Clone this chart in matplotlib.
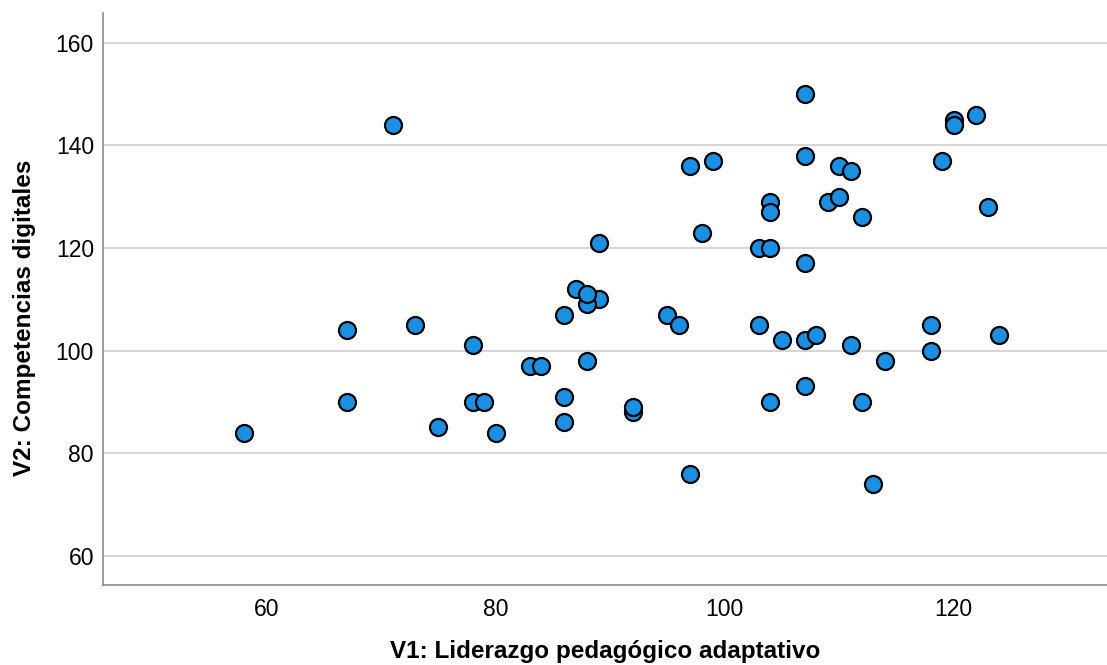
import matplotlib
matplotlib.use('Agg')
import matplotlib.pyplot as plt

# V1 (x) and V2 (y) scores
v1_liderazgo = [58, 67, 67, 71, 73, 75, 78, 78, 79, 80,
                83, 84, 86, 86, 86, 87, 89, 88, 88, 88,
                89, 92, 92, 95, 96, 97, 97, 98, 99, 103,
                103, 104, 104, 104, 104, 105, 107, 107, 107, 107,
                107, 108, 109, 110, 110, 111, 111, 112, 112, 113,
                114, 118, 118, 119, 120, 120, 122, 123, 124]
v2_competencias = [84, 104, 90, 144, 105, 85, 101, 90, 90, 84,
                   97, 97, 107, 91, 86, 112, 110, 109, 111, 98,
                   121, 88, 89, 107, 105, 136, 76, 123, 137, 120,
                   105, 129, 127, 120, 90, 102, 150, 138, 117, 102,
                   93, 103, 129, 136, 130, 135, 101, 126, 90, 74,
                   98, 105, 100, 137, 145, 144, 146, 128, 103]

x_ticks = [60, 80, 100, 120]
y_ticks = [60, 80, 100, 120, 140, 160]
x_label = 'V1: Liderazgo pedagógico adaptativo'
y_label = 'V2: Competencias digitales'

plt.rcParams['font.family'] = ['Liberation Sans', 'DejaVu Sans']

fig = plt.figure(figsize=(11.07, 6.65), dpi=100)
ax = fig.add_axes([0.093, 0.1203, 0.907, 0.8602])

ax.scatter(v1_liderazgo, v2_competencias, s=150, c='#1b8fe2',
           edgecolors='black', linewidths=1.6, zorder=3)

ax.set_xlim(45.7, 133.4)
ax.set_ylim(54.3, 165.8)
ax.set_xticks(x_ticks)
ax.set_yticks(y_ticks)
ax.tick_params(axis='both', length=0, labelsize=16.5, colors='black')
ax.tick_params(axis='x', pad=9)
ax.tick_params(axis='y', pad=6.5)

ax.grid(axis='y', color='#d2d2d2', linewidth=1.3, zorder=0)
ax.set_axisbelow(True)
for side in ['top', 'right']:
    ax.spines[side].set_visible(False)
for side in ['left', 'bottom']:
    ax.spines[side].set_color('#8c8c8c')
    ax.spines[side].set_linewidth(1.2)

fig.text(0.5465, 0.0205, x_label, ha='center', va='center',
         fontsize=17.5, fontweight='bold')
fig.text(0.0225, 0.522, y_label, ha='center', va='center', rotation=90,
         fontsize=17.5, fontweight='bold')

fig.savefig('out.png', dpi=100)
